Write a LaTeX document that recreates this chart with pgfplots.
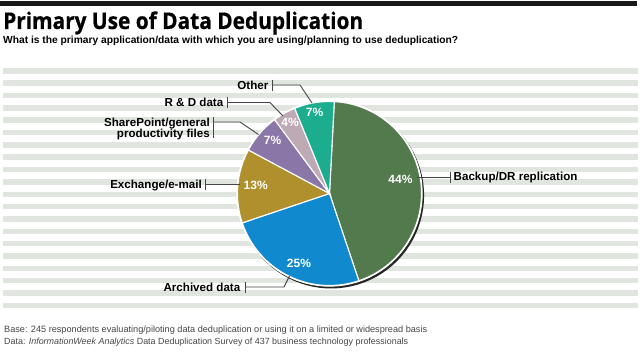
\documentclass[border=0pt]{standalone}
\usepackage{pgfplots}
\pgfplotsset{compat=1.18}
\usepackage{pgfplotstable}
\usepackage{fontspec}
\setmainfont{Liberation Sans}
\newfontfamily\titlefont[BoldFeatures={FakeBold=0.6}]{Open Sans}
\definecolor{cgreen}{RGB}{82,122,76}
\definecolor{cblue}{RGB}{16,137,206}
\definecolor{cgold}{RGB}{176,144,44}
\definecolor{cpurple}{RGB}{139,118,168}
\definecolor{cmauve}{RGB}{190,170,180}
\definecolor{cteal}{RGB}{28,172,142}
\definecolor{stripe}{RGB}{225,229,223}
\definecolor{leader}{RGB}{70,70,70}
\definecolor{foot}{RGB}{70,70,70}

\tikzset{
  lbl/.style={font=\bfseries\fontsize{11.6bp}{11.5bp}\selectfont, inner sep=0pt, text=black},
  pct/.style={font=\bfseries\fontsize{12bp}{12bp}\selectfont, inner sep=0pt, text=white},
  ld/.style={draw=leader, line width=0.9bp},
}

\pgfplotstableread{
name value
Backup 44
Archived 25
Exchange 13
SharePoint 7
RD 4
Other 7
}\piedata

% cumulative angles (clockwise from 3 degrees right of 12 o'clock; y axis reversed)
\pgfmathsetmacro\aS{-87}
\pgfplotstablegetelem{0}{value}\of\piedata \pgfmathsetmacro\aA{\aS+3.6*\pgfplotsretval}
\pgfplotstablegetelem{1}{value}\of\piedata \pgfmathsetmacro\aB{\aA+3.6*\pgfplotsretval}
\pgfplotstablegetelem{2}{value}\of\piedata \pgfmathsetmacro\aC{\aB+3.6*\pgfplotsretval}
\pgfplotstablegetelem{3}{value}\of\piedata \pgfmathsetmacro\aD{\aC+3.6*\pgfplotsretval}
\pgfplotstablegetelem{4}{value}\of\piedata \pgfmathsetmacro\aE{\aD+3.6*\pgfplotsretval}
\pgfplotstablegetelem{5}{value}\of\piedata \pgfmathsetmacro\aF{\aE+3.6*\pgfplotsretval}

\def\cx{329.5}
\def\cy{193.5}
\def\rr{92}

\begin{document}
\begin{tikzpicture}
\begin{axis}[
  at={(0,0)}, anchor=south west,
  width=640bp, height=358bp, scale only axis,
  xmin=0, xmax=640, ymin=0, ymax=358, y dir=reverse,
  hide axis, clip=false,
  every axis plot/.append style={samples=60, variable=\t},
]
% background
\fill[white] (axis cs:0,0) rectangle (axis cs:640,358);
\fill[black!90] (axis cs:0,1.5) rectangle (axis cs:637,6.5);
\pgfplotsinvokeforeach{0,...,19}{
  \fill[stripe] (axis cs:3,{68+12.35*#1}) rectangle (axis cs:638,{73.5+12.35*#1});
}

% shadow and white ring
\addplot[draw=none, fill=black!85, domain=0:360, samples=90] ({\cx+1.6+93*cos(t)},{\cy+2+93*sin(t)}) -- cycle;
\addplot[draw=none, fill=white, domain=0:360, samples=90] ({\cx+93.2*cos(t)},{\cy+93.2*sin(t)}) -- cycle;

% slices
\addplot[fill=cgreen, draw=white, line width=1.1bp, domain=\aS:\aA] ({\cx+\rr*cos(t)},{\cy+\rr*sin(t)}) -- (axis cs:\cx,\cy) -- cycle;
\addplot[fill=cblue, draw=white, line width=1.1bp, domain=\aA:\aB] ({\cx+\rr*cos(t)},{\cy+\rr*sin(t)}) -- (axis cs:\cx,\cy) -- cycle;
\addplot[fill=cgold, draw=white, line width=1.1bp, domain=\aB:\aC] ({\cx+\rr*cos(t)},{\cy+\rr*sin(t)}) -- (axis cs:\cx,\cy) -- cycle;
\addplot[fill=cpurple, draw=white, line width=1.1bp, domain=\aC:\aD] ({\cx+\rr*cos(t)},{\cy+\rr*sin(t)}) -- (axis cs:\cx,\cy) -- cycle;
\addplot[fill=cmauve, draw=white, line width=1.1bp, domain=\aD:\aE] ({\cx+\rr*cos(t)},{\cy+\rr*sin(t)}) -- (axis cs:\cx,\cy) -- cycle;
\addplot[fill=cteal, draw=white, line width=1.1bp, domain=\aE:\aF] ({\cx+\rr*cos(t)},{\cy+\rr*sin(t)}) -- (axis cs:\cx,\cy) -- cycle;

% percent labels
\node[pct] at (axis cs:400.5,179) {44\%};
\node[pct] at (axis cs:299,263.5) {25\%};
\node[pct] at (axis cs:255.7,185.5) {13\%};
\node[pct] at (axis cs:272.5,140) {7\%};
\node[pct] at (axis cs:290,122) {4\%};
\node[pct] at (axis cs:314.5,112) {7\%};

% leaders
\draw[ld] (axis cs:272,85) -- (axis cs:300,85) -- (axis cs:312,103);
\draw[ld] (axis cs:272,79.5) -- (axis cs:272,90.5);
\draw[ld] (axis cs:227,102.5) -- (axis cs:270,102.5) -- (axis cs:283,116);
\draw[ld] (axis cs:227,97) -- (axis cs:227,108);
\draw[ld] (axis cs:213,122) -- (axis cs:240,122) -- (axis cs:258.5,134.5);
\draw[ld] (axis cs:213,117) -- (axis cs:213,137.5);
\draw[ld] (axis cs:205,184.5) -- (axis cs:240,184.5);
\draw[ld] (axis cs:205,179) -- (axis cs:205,190);
\draw[ld] (axis cs:245,287) -- (axis cs:284,287) -- (axis cs:289.5,276);
\draw[ld] (axis cs:245,281.5) -- (axis cs:245,292.5);
\draw[ld] (axis cs:417,177) -- (axis cs:450,177);
\draw[ld] (axis cs:450,171.5) -- (axis cs:450,182.5);

% labels
\node[lbl, anchor=base east] at (axis cs:268.5,89) {Other};
\node[lbl, anchor=base east] at (axis cs:223.5,106) {R \& D data};
\node[lbl, anchor=base east] at (axis cs:210,126) {SharePoint/general};
\node[lbl, anchor=base east] at (axis cs:210,137.5) {productivity files};
\node[lbl, anchor=base east] at (axis cs:202,188.5) {Exchange/e-mail};
\node[lbl, anchor=base east] at (axis cs:240.5,291) {Archived data};
\node[lbl, anchor=base west] at (axis cs:453.5,180.5) {Backup/DR replication};

% title, subtitle, footer
\node[anchor=base west, inner sep=0pt] at (axis cs:3,29) {\resizebox{360bp}{17.6bp}{\titlefont\bfseries\fontsize{25bp}{25bp}\selectfont Primary Use of Data Deduplication}};
\node[anchor=base west, inner sep=0pt] at (axis cs:3,43.5) {\resizebox{455bp}{!}{\bfseries\fontsize{9bp}{9bp}\selectfont What is the primary application/data with which you are using/planning to use deduplication?}};
\node[anchor=base west, inner sep=0pt, text=foot] at (axis cs:4,332.8) {\resizebox{423bp}{!}{\fontsize{8bp}{8bp}\selectfont Base: 245 respondents evaluating/piloting data deduplication or using it on a limited or widespread basis}};
\node[anchor=base west, inner sep=0pt, text=foot] at (axis cs:4,344) {\resizebox{404bp}{!}{\fontsize{8bp}{8bp}\selectfont Data: \textit{InformationWeek Analytics} Data Deduplication Survey of 437 business technology professionals}};
\end{axis}
\useasboundingbox (0,0) rectangle (640bp,358bp);
\end{tikzpicture}
\end{document}
